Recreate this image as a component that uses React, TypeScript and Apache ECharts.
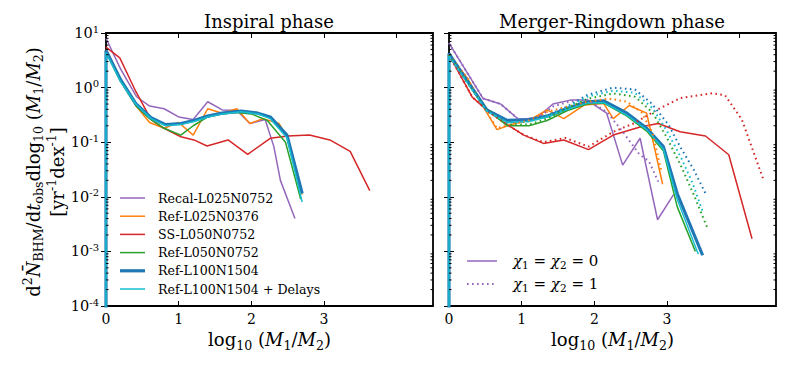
import React, { useEffect, useRef } from "react";
import * as echarts from "echarts";

const FONT = "'DejaVu Serif', serif";

// ---------- data: [log10(M1/M2), rate] ----------
const names = [
  "Recal-L025N0752",
  "Ref-L025N0376",
  "SS-L050N0752",
  "Ref-L050N0752",
  "Ref-L100N1504",
  "Ref-L100N1504 + Delays",
];
const colors = ["#9467bd", "#ff7f0e", "#d62728", "#2ca02c", "#1f77b4", "#17becf"];
const widths = [1.5, 1.5, 1.5, 1.5, 3.2, 1.5];

// Inspiral phase
const purpleL = [[0, 8], [0.2, 2.2], [0.42, 0.68], [0.6, 0.46], [0.8, 0.41], [1.0, 0.29], [1.2, 0.26], [1.4, 0.55], [1.6, 0.39], [1.8, 0.38], [1.98, 0.22], [2.19, 0.26], [2.31, 0.083], [2.4, 0.02], [2.6, 0.004]];
const orangeL = [[0, 5], [0.2, 1.4], [0.42, 0.45], [0.6, 0.23], [0.8, 0.18], [1.0, 0.23], [1.2, 0.135], [1.4, 0.41], [1.6, 0.34], [1.8, 0.41], [1.98, 0.22], [2.16, 0.27], [2.38, 0.22], [2.5, 0.12], [2.7, 0.011]];
const redL = [[0, 5.5], [0.19, 3.5], [0.41, 0.85], [0.62, 0.26], [0.8, 0.18], [1.03, 0.126], [1.21, 0.11], [1.39, 0.085], [1.68, 0.11], [1.95, 0.06], [2.26, 0.118], [2.5, 0.13], [2.8, 0.135], [3.08, 0.11], [3.36, 0.068], [3.63, 0.013]];
const greenL = [[0, 4.5], [0.2, 1.3], [0.42, 0.45], [0.6, 0.27], [0.8, 0.18], [1.03, 0.135], [1.2, 0.2], [1.4, 0.29], [1.6, 0.33], [1.8, 0.35], [2.0, 0.33], [2.22, 0.25], [2.47, 0.1], [2.68, 0.009]];
const blueL = [[0, 1e-6], [0, 4.8], [0.2, 1.4], [0.41, 0.51], [0.62, 0.28], [0.82, 0.21], [1.03, 0.22], [1.21, 0.25], [1.4, 0.3], [1.6, 0.34], [1.86, 0.37], [2.09, 0.34], [2.26, 0.29], [2.49, 0.135], [2.7, 0.0115]];
const cyanL = [[0, 1e-6], [0, 4.4], [0.2, 1.3], [0.41, 0.5], [0.62, 0.27], [0.82, 0.2], [1.03, 0.21], [1.21, 0.24], [1.4, 0.29], [1.6, 0.33], [1.86, 0.36], [2.09, 0.33], [2.26, 0.27], [2.49, 0.12], [2.7, 0.008]];

// Merger-Ringdown phase, chi1 = chi2 = 0 (solid)
const purpleR = [[0, 6.5], [0.47, 0.63], [0.71, 0.5], [0.96, 0.26], [1.21, 0.28], [1.43, 0.5], [1.67, 0.59], [1.9, 0.59], [2.17, 0.34], [2.39, 0.038], [2.63, 0.118], [2.87, 0.0038], [3.09, 0.011]];
const orangeR = [[0, 4], [0.25, 1.5], [0.47, 0.45], [0.66, 0.17], [0.9, 0.22], [1.1, 0.25], [1.35, 0.39], [1.58, 0.27], [1.86, 0.48], [2.13, 0.51], [2.26, 0.27], [2.48, 0.47], [2.72, 0.34], [2.94, 0.017]];
const redR = [[0, 4], [0.32, 0.67], [0.57, 0.34], [0.8, 0.21], [1.03, 0.135], [1.3, 0.095], [1.58, 0.11], [1.92, 0.073], [2.26, 0.135], [2.63, 0.19], [2.88, 0.22], [3.18, 0.155], [3.53, 0.13], [3.85, 0.059], [4.17, 0.0017]];
const greenR = [[0, 4], [0.5, 0.42], [0.8, 0.2], [1.1, 0.2], [1.35, 0.25], [1.63, 0.38], [1.9, 0.5], [2.13, 0.52], [2.45, 0.3], [2.72, 0.16], [2.95, 0.07], [3.14, 0.0066], [3.39, 0.001]];
const blueR = [[0, 1e-6], [0, 4.2], [0.52, 0.39], [0.8, 0.25], [1.1, 0.26], [1.35, 0.3], [1.63, 0.42], [1.9, 0.55], [2.13, 0.57], [2.45, 0.34], [2.72, 0.18], [2.95, 0.083], [3.14, 0.0115], [3.49, 0.00085]];
const cyanR = [[0, 1e-6], [0, 3.8], [0.52, 0.37], [0.8, 0.23], [1.1, 0.24], [1.35, 0.29], [1.63, 0.4], [1.9, 0.52], [2.13, 0.53], [2.45, 0.31], [2.72, 0.17], [2.95, 0.075], [3.14, 0.009], [3.43, 0.0009]];

// Merger-Ringdown phase, chi1 = chi2 = 1 (dotted)
const purpleD = [[0, 6.5], [0.47, 0.63], [0.71, 0.5], [0.96, 0.26], [1.21, 0.27], [1.43, 0.45], [1.67, 0.56], [1.9, 0.6], [2.17, 0.36], [2.4, 0.15], [2.62, 0.06], [2.75, 0.045], [2.88, 0.019]];
const orangeD = [[0, 4], [0.25, 1.5], [0.47, 0.45], [0.66, 0.18], [0.9, 0.22], [1.1, 0.25], [1.35, 0.36], [1.63, 0.45], [1.9, 0.55], [2.2, 0.63], [2.45, 0.55], [2.65, 0.35], [2.8, 0.15], [2.92, 0.03]];
const redD = [[0, 4], [0.32, 0.67], [0.57, 0.34], [0.8, 0.21], [1.03, 0.135], [1.3, 0.1], [1.6, 0.12], [1.92, 0.083], [2.26, 0.155], [2.54, 0.22], [2.86, 0.39], [3.18, 0.64], [3.62, 0.79], [3.8, 0.72], [4.03, 0.26], [4.33, 0.02]];
const greenD = [[0, 4], [0.5, 0.42], [0.8, 0.21], [1.1, 0.21], [1.35, 0.27], [1.63, 0.42], [1.9, 0.62], [2.26, 0.78], [2.56, 0.68], [2.8, 0.35], [3.0, 0.12], [3.2, 0.035], [3.38, 0.01], [3.55, 0.0028]];
const blueD = [[0, 4.2], [0.52, 0.39], [0.8, 0.25], [1.1, 0.26], [1.35, 0.31], [1.63, 0.45], [1.9, 0.73], [2.26, 1.0], [2.56, 0.92], [2.79, 0.51], [3.02, 0.21], [3.18, 0.083], [3.37, 0.031], [3.53, 0.0115]];
const cyanD = [[0, 3.8], [0.52, 0.37], [0.8, 0.23], [1.1, 0.24], [1.35, 0.3], [1.63, 0.43], [1.9, 0.68], [2.26, 0.88], [2.56, 0.8], [2.8, 0.42], [3.0, 0.16], [3.2, 0.05], [3.35, 0.018], [3.5, 0.005]];

const inspiral = [purpleL, orangeL, redL, greenL, blueL, cyanL];
const mergerSolid = [purpleR, orangeR, redR, greenR, blueR, cyanR];
const mergerDotted = [purpleD, orangeD, redD, greenD, blueD, cyanD];

const xTicks = [0, 1, 2, 3, 4];
const xMax = 4.5;
const yMin = 1e-4;
const yMax = 10;
const minorTickValues: number[] = [];
for (let e = -4; e < 1; e++) for (let m = 2; m <= 9; m++) minorTickValues.push(m * Math.pow(10, e));

const titles = ["Inspiral phase", "Merger-Ringdown phase"];

// ---------- helpers ----------
function rich(fs: number) {
  return {
    r: { fontSize: fs, fontFamily: FONT, color: "#000", lineHeight: fs * 1.3 },
    i: { fontSize: fs, fontFamily: FONT, fontStyle: "italic", color: "#000", lineHeight: fs * 1.3 },
    sub: { fontSize: fs * 0.7, fontFamily: FONT, color: "#000", verticalAlign: "bottom", lineHeight: fs * 0.7 },
    sup: { fontSize: fs * 0.7, fontFamily: FONT, color: "#000", verticalAlign: "top", lineHeight: fs * 0.7 },
  };
}

export default function App() {
  const ref = useRef<HTMLDivElement>(null);
  useEffect(() => {
    if (!ref.current) return;
    const chart = echarts.init(ref.current, undefined, { renderer: "svg" });

    const gridDefs = [
      { left: 106, top: 33, width: 327, height: 273 },
      { left: 449, top: 33, width: 327, height: 273 },
    ];
    const xLabelName = "{r|log}{sub|10}{r| (}{i|M}{sub|1}{r|/}{i|M}{sub|2}{r|)}";

    const xAxes: any[] = [];
    const yAxes: any[] = [];
    gridDefs.forEach((_, g) => {
      xAxes.push({
        type: "value", gridIndex: g, position: "bottom", min: 0, max: xMax, interval: 1,
        axisLine: { show: false },
        axisTick: { show: true, inside: true, length: 5, lineStyle: { color: "#000", width: 1 },
          customValues: xTicks },
        axisLabel: { fontSize: 14, fontFamily: FONT, color: "#000", margin: 6, showMaxLabel: false,
          customValues: xTicks },
        splitLine: { show: false },
        name: xLabelName, nameLocation: "middle", nameGap: 20,
        nameTextStyle: { rich: rich(18) },
      });
      xAxes.push({
        type: "value", gridIndex: g, position: "top", min: 0, max: xMax, interval: 1,
        axisLine: { show: false },
        axisTick: { show: true, inside: true, length: 5, lineStyle: { color: "#000", width: 1 },
          customValues: xTicks },
        axisLabel: { show: false },
        splitLine: { show: false },
      });
      yAxes.push({
        type: "log", logBase: 10, gridIndex: g, position: "left", min: yMin, max: yMax,
        axisLine: { show: false },
        axisTick: { show: true, inside: true, length: 5, lineStyle: { color: "#000", width: 1 } },
        axisLabel: g === 0 ? {
          margin: 7,
          formatter: (v: number) => `{b|10}{s|${Math.round(Math.log10(v))}}`,
          rich: {
            b: { fontSize: 14.5, fontFamily: FONT, color: "#000", lineHeight: 18 },
            s: { fontSize: 10, fontFamily: FONT, color: "#000", lineHeight: 10, verticalAlign: "top" },
          },
        } : { show: false },
        splitLine: { show: false },
      });
      yAxes.push({
        type: "log", logBase: 10, gridIndex: g, position: "right", min: yMin, max: yMax,
        axisLine: { show: false },
        axisTick: { show: true, inside: true, length: 5, lineStyle: { color: "#000", width: 1 } },
        axisLabel: { show: false },
        splitLine: { show: false },
      });
    });

    const series: any[] = [];
    const lineSeries = (name: string, data: number[][], g: number, i: number, dotted: boolean) => ({
      type: "line", name, data, xAxisIndex: g * 2, yAxisIndex: g * 2,
      symbol: "none", showSymbol: false, clip: true,
      lineStyle: dotted
        ? { color: colors[i], width: 2, type: [1.6, 3.4] }
        : { color: colors[i], width: widths[i] },
      itemStyle: { color: colors[i] },
      z: dotted ? 3 : 2,
      silent: true,
    });
    inspiral.forEach((d, i) => series.push(lineSeries(names[i], d, 0, i, false)));
    mergerSolid.forEach((d, i) => series.push(lineSeries(names[i], d, 1, i, false)));
    mergerDotted.forEach((d, i) => series.push(lineSeries(names[i] + " (spin)", d, 1, i, true)));

    // minor log ticks on both y sides
    [0, 1].forEach((g) => {
      series.push({
        type: "custom", xAxisIndex: g * 2, yAxisIndex: g * 2, silent: true, z: 5,
        data: minorTickValues.map((v) => [0, v]),
        encode: { x: 0, y: 1 },
        renderItem: (params: any, api: any) => {
          const v = api.value(1);
          const pl = api.coord([0, v]);
          const pr = api.coord([xMax, v]);
          return {
            type: "group",
            children: [
              { type: "line", shape: { x1: pl[0], y1: pl[1], x2: pl[0] + 2.5, y2: pl[1] }, style: { stroke: "#000", lineWidth: 1 } },
              { type: "line", shape: { x1: pr[0], y1: pr[1], x2: pr[0] - 2.5, y2: pr[1] }, style: { stroke: "#000", lineWidth: 1 } },
            ],
          };
        },
      });
    });

    const yRich = rich(18);
    const graphic: any[] = [
      { type: "text", x: 269, y: 21, style: { text: titles[0], fontSize: 18, fontFamily: FONT, fill: "#000", align: "center", verticalAlign: "middle" } },
      { type: "text", x: 612, y: 21, style: { text: titles[1], fontSize: 18, fontFamily: FONT, fill: "#000", align: "center", verticalAlign: "middle" } },
      {
        type: "text", x: 33, y: 172, rotation: Math.PI / 2,
        style: {
          text: "{r|d}{sup|2}{i|N\u0304}{sub|BHM}{r|/d}{i|t}{sub|obs}{r|dlog}{sub|10}{r| (}{i|M}{sub|1}{r|/}{i|M}{sub|2}{r|)}",
          rich: yRich, align: "center", verticalAlign: "middle",
        },
      },
      {
        type: "text", x: 57, y: 172, rotation: Math.PI / 2,
        style: {
          text: "{r|[yr}{sup|-1}{r|dex}{sup|-1}{r|]}",
          rich: yRich, align: "center", verticalAlign: "middle",
        },
      },
      // right-panel legend
      { type: "line", shape: { x1: 467, y1: 261, x2: 497, y2: 261 }, style: { stroke: colors[0], lineWidth: 1.5 } },
      { type: "line", shape: { x1: 467, y1: 284, x2: 497, y2: 284 }, style: { stroke: colors[0], lineWidth: 2, lineDash: [1.6, 3.4] } },
      {
        type: "text", x: 513, y: 261,
        style: { text: "{i|χ}{sub|1}{r| = }{i|χ}{sub|2}{r| = 0}", rich: rich(15), align: "left", verticalAlign: "middle" },
      },
      {
        type: "text", x: 513, y: 284,
        style: { text: "{i|χ}{sub|1}{r| = }{i|χ}{sub|2}{r| = 1}", rich: rich(15), align: "left", verticalAlign: "middle" },
      },
    ];

    chart.setOption({
      animation: false,
      backgroundColor: "#fff",
      grid: gridDefs.map((g) => ({ ...g, show: true, borderColor: "#000", borderWidth: 1.8, backgroundColor: "transparent" })),
      xAxis: xAxes,
      yAxis: yAxes,
      legend: {
        data: names.map((n, i) => ({
          name: n,
          icon: `path://M0,0H25V${widths[i]}H0Z`,
        })),
        orient: "vertical",
        left: 115,
        top: 186,
        itemWidth: 25,
        itemHeight: 14,
        itemGap: 4.2,
        selectedMode: false,
        textStyle: { fontSize: 12.6, fontFamily: FONT, color: "#000", lineHeight: 14, padding: [0, 0, 0, 8] },
      },
      series,
      graphic,
    });
    return () => chart.dispose();
  }, []);
  return <div ref={ref} style={{ position: "fixed", left: 0, top: 0, width: 789, height: 370 }} />;
}
